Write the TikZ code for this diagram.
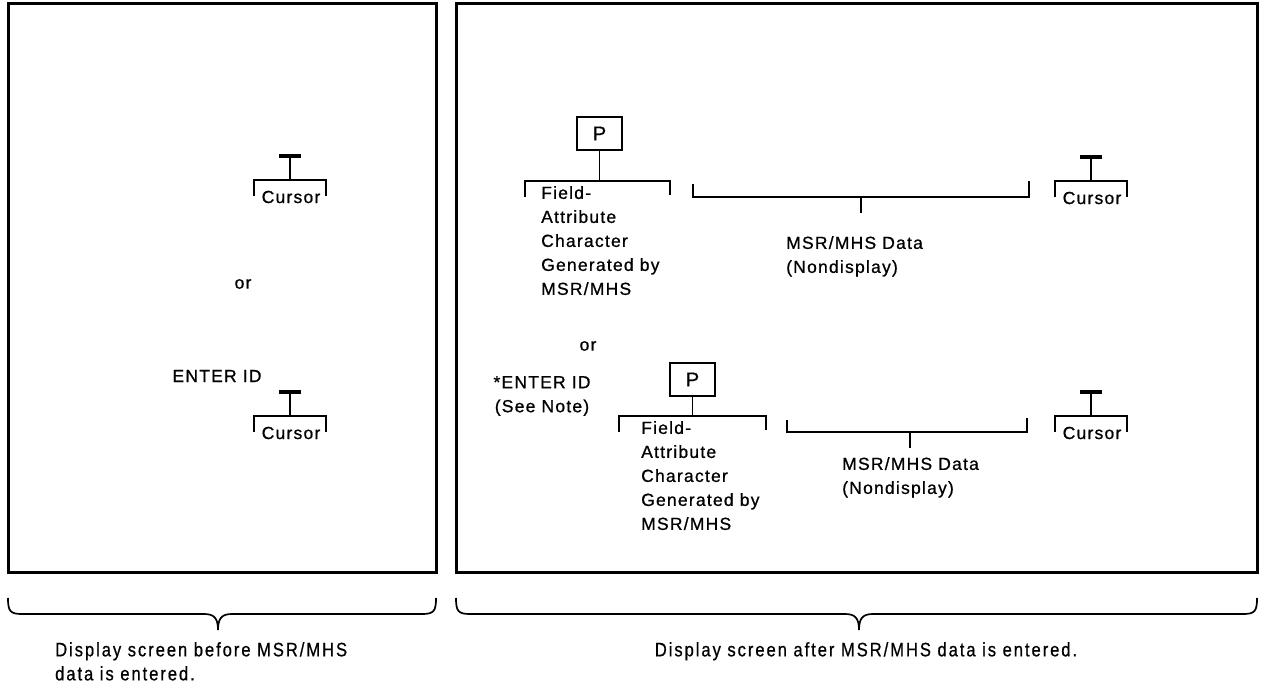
\documentclass[tikz,border=0pt]{standalone}
\usepackage{fontspec}
\setmainfont{Liberation Sans}[LetterSpace=7,FakeBold=0.8]
\newfontfamily\capfont{Liberation Sans}[FakeStretch=0.85,LetterSpace=10,FakeBold=0.6]
\begin{document}
\begin{tikzpicture}[x=1pt,y=-1pt,
  frame/.style={line width=3pt},
  brk/.style={line width=1.7pt},
  curbar/.style={line width=3.4pt},
  lbl/.style={font=\fontsize{17.5}{24}\selectfont, inner sep=0pt},
  captext/.style={font=\capfont\fontsize{19.5}{24}\selectfont, inner sep=0pt, align=left},
  pbox/.style={draw, line width=1.7pt, minimum width=45pt, minimum height=33pt, inner sep=0pt, font=\fontsize{20}{22}\selectfont}
]
\useasboundingbox[fill=white] (0,0) rectangle (1261,687);

% frames
\draw[frame] (8,4) rectangle (436,572);
\draw[frame] (456,4) rectangle (1257,572);

% ---------- left panel ----------
\coordinate (lc1) at (290,180);
\draw[curbar] ([xshift=-11pt,yshift=24pt]lc1) -- ([xshift=11pt,yshift=24pt]lc1);
\draw[brk] ([yshift=24pt]lc1) -- (lc1);
\draw[brk] ([xshift=-36pt,yshift=-16pt]lc1) -- ([xshift=-36pt]lc1) -- ([xshift=36pt]lc1) -- ([xshift=36pt,yshift=-16pt]lc1);
\node[lbl] (lt1) at ([xshift=1pt,yshift=-17pt]lc1) {Cursor};

\node[lbl] (lor) at (243,284) {or};
\node[lbl] (lenter) at (217,376) {ENTER ID};

\coordinate (lc2) at (290,416);
\draw[curbar] ([xshift=-11pt,yshift=24pt]lc2) -- ([xshift=11pt,yshift=24pt]lc2);
\draw[brk] ([yshift=24pt]lc2) -- (lc2);
\draw[brk] ([xshift=-36pt,yshift=-16pt]lc2) -- ([xshift=-36pt]lc2) -- ([xshift=36pt]lc2) -- ([xshift=36pt,yshift=-16pt]lc2);
\node[lbl] (lt2) at ([xshift=1pt,yshift=-17pt]lc2) {Cursor};

% ---------- right panel, row 1 ----------
\node[pbox] (p1) at (599.5,133.5) {P};
\coordinate (f1) at (599.5,181);
\draw[brk] (p1.south) -- (f1);
\draw[brk] (525,197) -- (525,181) -- (670,181) -- (670,195);
\node[lbl, anchor=north west, align=left] (ft1) at (541,186) {Field-\\Attribute\\Character\\Generated by\\MSR/MHS};

\coordinate (d1) at (861,197);
\draw[brk] (693,184) -- (693,197) -- (1029,197) -- (1029,181);
\draw[brk] (d1) -- (861,213);
\node[lbl, anchor=north west, align=left] (dt1) at (786,236) {MSR/MHS Data\\(Nondisplay)};

\coordinate (rc1) at (1091,181);
\draw[curbar] ([xshift=-11pt,yshift=24pt]rc1) -- ([xshift=11pt,yshift=24pt]rc1);
\draw[brk] ([yshift=24pt]rc1) -- (rc1);
\draw[brk] ([xshift=-36pt,yshift=-16pt]rc1) -- ([xshift=-36pt]rc1) -- ([xshift=36pt]rc1) -- ([xshift=36pt,yshift=-16pt]rc1);
\node[lbl] (rt1) at ([xshift=1pt,yshift=-17pt]rc1) {Cursor};

\node[lbl] (ror) at (588,346) {or};
\node[lbl, align=center] (renter) at (542,396) {*ENTER ID\\(See Note)};

% ---------- right panel, row 2 ----------
\node[pbox] (p2) at (692.5,379.5) {P};
\coordinate (f2) at (692.5,416);
\draw[brk] (p2.south) -- (f2);
\draw[brk] (619,432) -- (619,416) -- (766,416) -- (766,430);
\node[lbl, anchor=north west, align=left] (ft2) at (641,421) {Field-\\Attribute\\Character\\Generated by\\MSR/MHS};

\coordinate (d2) at (910,432);
\draw[brk] (787,420) -- (787,432) -- (1027,432) -- (1027,418);
\draw[brk] (d2) -- (910,448);
\node[lbl, anchor=north west, align=left] (dt2) at (842,457) {MSR/MHS Data\\(Nondisplay)};

\coordinate (rc2) at (1091,416);
\draw[curbar] ([xshift=-11pt,yshift=24pt]rc2) -- ([xshift=11pt,yshift=24pt]rc2);
\draw[brk] ([yshift=24pt]rc2) -- (rc2);
\draw[brk] ([xshift=-36pt,yshift=-16pt]rc2) -- ([xshift=-36pt]rc2) -- ([xshift=36pt]rc2) -- ([xshift=36pt,yshift=-16pt]rc2);
\node[lbl] (rt2) at ([xshift=1pt,yshift=-17pt]rc2) {Cursor};

% ---------- braces ----------
\draw[brk] (8,598) .. controls (8,611) and (10,614) .. (22,614) -- (204,614)
  .. controls (214,614) and (218,618) .. (218,630)
  .. controls (218,618) and (222,614) .. (232,614) -- (422,614)
  .. controls (434,614) and (436,611) .. (436,598);
\draw[brk] (456,598) .. controls (456,611) and (458,614) .. (470,614) -- (845,614)
  .. controls (855,614) and (859,618) .. (859,630)
  .. controls (859,618) and (863,614) .. (873,614) -- (1243,614)
  .. controls (1255,614) and (1257,611) .. (1257,598);

\node[captext, anchor=north west] (c1) at (55,642) {Display screen before MSR/MHS\\data is entered.};
\node[captext, anchor=north] (c2) at (866,642) {Display screen after MSR/MHS data is entered.};
\end{tikzpicture}
\end{document}
